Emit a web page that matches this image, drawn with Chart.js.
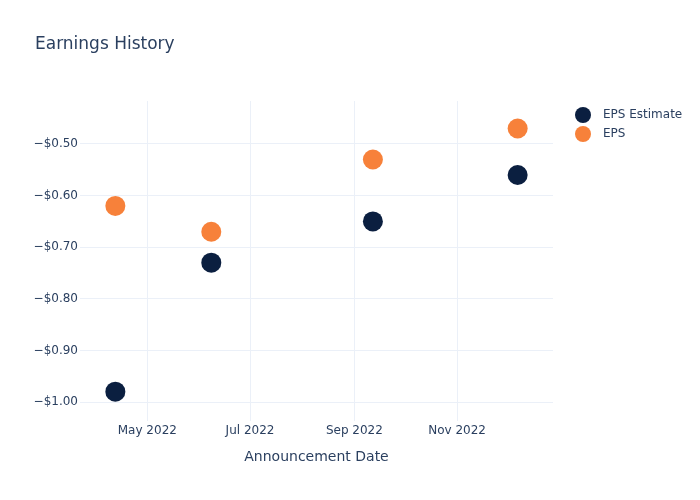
<!DOCTYPE html>
<html lang="en">
<head>
    <meta charset="UTF-8">
    <title>Earnings History</title>
    <script src="https://cdn.jsdelivr.net/npm/chart.js"></script>
    <style>
        html, body {
            margin: 0;
            padding: 0;
            background: #fff;
        }
        #wrap {
            width: 700px;
            height: 500px;
        }
    </style>
</head>
<body>
    <div id="wrap"><canvas id="epsChart" width="700" height="500"></canvas></div>

    <script>
        // announcement dates (UTC)
        const dates = ['2022-04-12', '2022-06-08', '2022-09-12', '2022-12-07'];
        const epsEstimate = [-0.98, -0.73, -0.65, -0.56];
        const epsActual = [-0.62, -0.67, -0.53, -0.47];
        const xTicks = ['2022-05-01', '2022-07-01', '2022-09-01', '2022-11-01'];
        const yTicks = [-1.0, -0.9, -0.8, -0.7, -0.6, -0.5];
        const months = ['Jan', 'Feb', 'Mar', 'Apr', 'May', 'Jun', 'Jul', 'Aug', 'Sep', 'Oct', 'Nov', 'Dec'];

        const toTime = s => Date.parse(s + 'T00:00:00Z');
        const textColor = '#2a3f5f';
        const gridColor = '#ebf0f8';
        const navy = '#0b1f40';
        const orange = '#f7813a';
        const font = '"DejaVu Sans", "Open Sans", sans-serif';

        // title and legend drawn like the plotly layout
        const decorations = {
            id: 'decorations',
            afterDraw(chart) {
                const ctx = chart.ctx;
                ctx.save();
                ctx.fillStyle = textColor;
                ctx.textBaseline = 'middle';
                ctx.textAlign = 'left';
                ctx.font = '17px ' + font;
                ctx.fillText('Earnings History', 35, 45);

                ctx.font = '12px ' + font;
                const items = [['EPS Estimate', navy], ['EPS', orange]];
                items.forEach((it, i) => {
                    const y = 115 + i * 19;
                    ctx.fillStyle = it[1];
                    ctx.beginPath();
                    ctx.arc(583, y, 8, 0, Math.PI * 2);
                    ctx.fill();
                    ctx.fillStyle = textColor;
                    ctx.fillText(it[0], 603, y);
                });
                ctx.restore();
            }
        };

        new Chart(document.getElementById('epsChart'), {
            type: 'scatter',
            data: {
                datasets: [
                    {
                        label: 'EPS Estimate',
                        data: dates.map((d, i) => ({ x: toTime(d), y: epsEstimate[i] })),
                        backgroundColor: navy,
                        borderWidth: 0,
                        pointRadius: 10,
                        pointHoverRadius: 10
                    },
                    {
                        label: 'EPS',
                        data: dates.map((d, i) => ({ x: toTime(d), y: epsActual[i] })),
                        backgroundColor: orange,
                        borderWidth: 0,
                        pointRadius: 10,
                        pointHoverRadius: 10
                    }
                ]
            },
            options: {
                responsive: false,
                animation: false,
                layout: { padding: { top: 101, right: 147, left: 0, bottom: 0 } },
                plugins: {
                    legend: { display: false },
                    title: { display: false },
                    tooltip: { enabled: false }
                },
                scales: {
                    x: {
                        type: 'linear',
                        min: toTime('2022-03-22'),
                        max: toTime('2022-12-28'),
                        border: { display: false },
                        grid: { color: gridColor, drawTicks: false },
                        afterBuildTicks: s => { s.ticks = xTicks.map(t => ({ value: toTime(t) })); },
                        afterFit: s => { s.height = 79; },
                        ticks: {
                            color: textColor,
                            font: { family: font, size: 12 },
                            padding: 3,
                            maxRotation: 0,
                            callback: v => {
                                const d = new Date(v);
                                return months[d.getUTCMonth()] + ' ' + d.getUTCFullYear();
                            }
                        },
                        title: {
                            display: true,
                            text: 'Announcement Date',
                            color: textColor,
                            font: { family: font, size: 14 },
                            padding: { top: 0, bottom: 34 }
                        }
                    },
                    y: {
                        min: -1.0368,
                        max: -0.4167,
                        border: { display: false },
                        grid: { color: gridColor, drawTicks: false },
                        afterBuildTicks: s => { s.ticks = yTicks.map(v => ({ value: v })); },
                        afterFit: s => { s.width = 80; },
                        ticks: {
                            color: textColor,
                            font: { family: font, size: 12 },
                            padding: 2,
                            callback: v => '\u2212$' + Math.abs(v).toFixed(2)
                        }
                    }
                }
            },
            plugins: [decorations]
        });
    </script>
</body>
</html>
